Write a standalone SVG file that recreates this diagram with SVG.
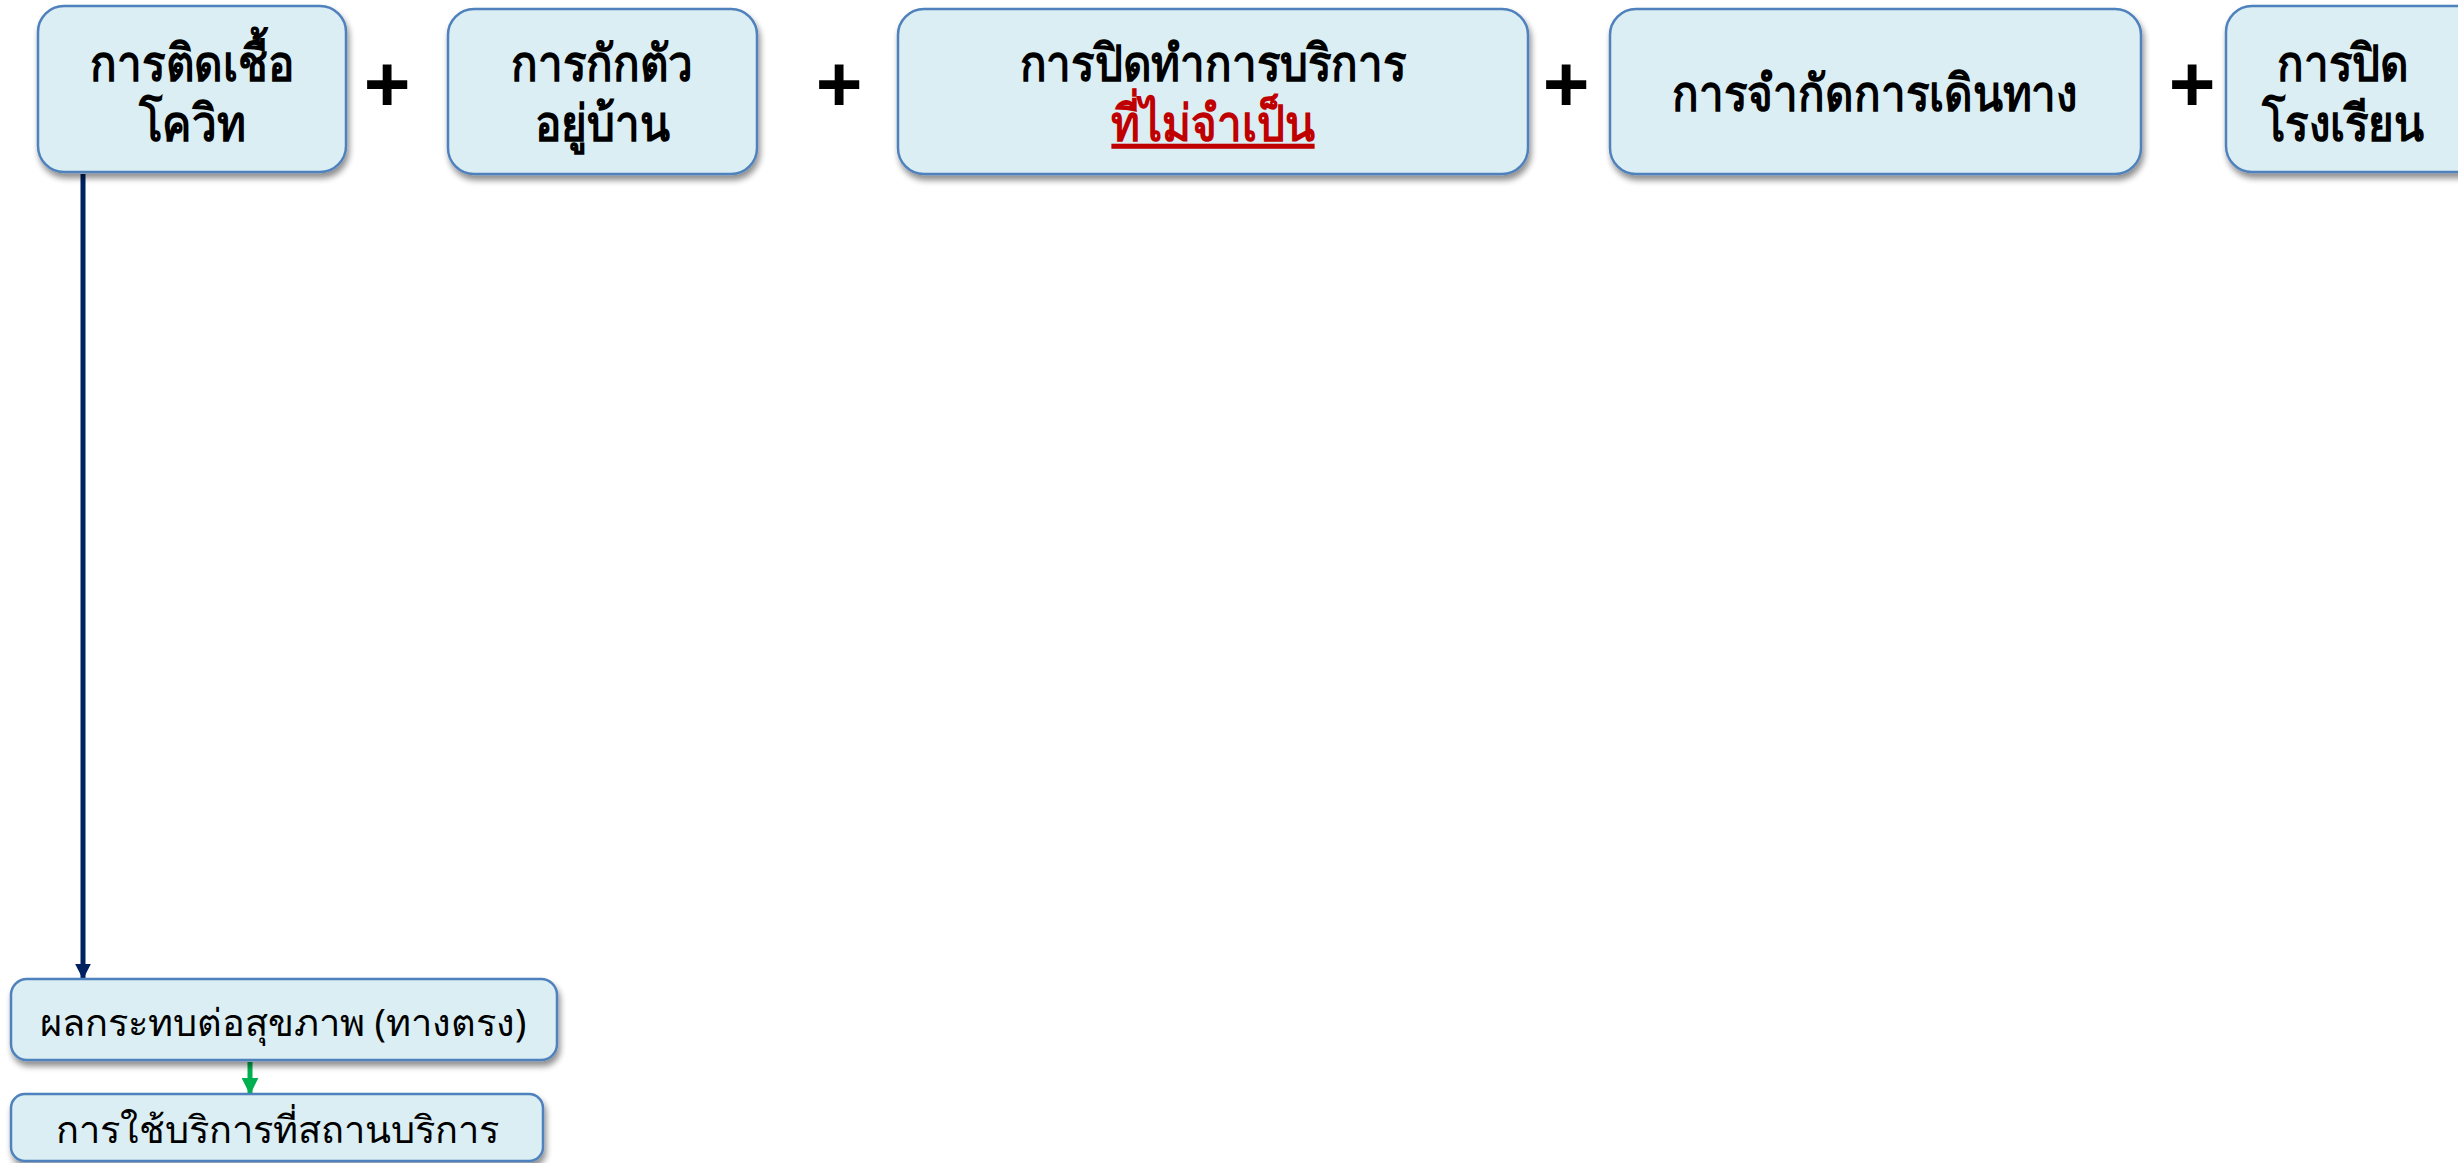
<svg xmlns="http://www.w3.org/2000/svg" width="2458" height="1163" viewBox="0 0 2458 1163">
<defs>
<filter id="sh" x="-10%" y="-10%" width="130%" height="140%">
<feGaussianBlur in="SourceAlpha" stdDeviation="3"/>
<feOffset dx="2" dy="5" result="b"/>
<feComponentTransfer><feFuncA type="linear" slope="0.45"/></feComponentTransfer>
<feMerge><feMergeNode/><feMergeNode in="SourceGraphic"/></feMerge>
</filter>
<marker id="arrNavy" viewBox="0 0 10 10" refX="9" refY="5" markerWidth="3.2" markerHeight="3.2" orient="auto"><path d="M0,0 L10,5 L0,10 z" fill="#002060"/></marker>
<marker id="arrGreen" viewBox="0 0 10 10" refX="9" refY="5" markerWidth="3.4" markerHeight="3.4" orient="auto"><path d="M0,0 L10,5 L0,10 z" fill="#00B050"/></marker>
</defs>
<style>
.box{fill:#DAEEF3;stroke:#4F81BD;stroke-width:2.5;filter:url(#sh)}
.t{font-family:"Noto Sans","DejaVu Sans",sans-serif;font-weight:bold;font-size:44px;fill:#000;text-anchor:middle}
.ts{font-family:"Noto Sans","DejaVu Sans",sans-serif;font-size:38px;fill:#000;text-anchor:middle}
.red{fill:#C00000;text-decoration:underline}
.plus{font-family:"Liberation Sans",Arial,sans-serif;font-weight:bold;font-size:80px;fill:#000;text-anchor:middle}
</style>
<rect width="2458" height="1163" fill="#fff"/>
<g id="connectors">
<line x1="83" y1="174" x2="83" y2="978" stroke="#002060" stroke-width="5" marker-end="url(#arrNavy)"/>
<line x1="250" y1="1062" x2="250" y2="1093" stroke="#00B050" stroke-width="5" marker-end="url(#arrGreen)"/>
</g>
<g id="n1"><rect class="box" x="38" y="6" width="308" height="166" rx="26"/>
<text class="t" transform="translate(192,0) scale(1,1.15)"><tspan x="0" y="70.5">การติดเชื้อ</tspan><tspan x="0" y="122.2">โควิท</tspan></text></g>
<g id="n2"><rect class="box" x="448" y="9" width="309" height="165" rx="26"/>
<text class="t" transform="translate(602,0) scale(1,1.15)"><tspan x="0" y="70.5">การกักตัว</tspan><tspan x="0" y="122.2">อยู่บ้าน</tspan></text></g>
<g id="n3"><rect class="box" x="898" y="9" width="630" height="165" rx="26"/>
<text class="t" transform="translate(1213,0) scale(1,1.15)"><tspan x="0" y="70.5">การปิดทำการบริการ</tspan><tspan class="red" x="0" y="122.2">ที่ไม่จำเป็น</tspan></text></g>
<g id="n4"><rect class="box" x="1610" y="9" width="531" height="165" rx="26"/>
<text class="t" transform="translate(1875,111) scale(1,1.15)">การจำกัดการเดินทาง</text></g>
<g id="n5"><rect class="box" x="2226" y="6" width="260" height="166" rx="26"/>
<text class="t" transform="translate(2343,0) scale(1,1.15)"><tspan x="0" y="70.5">การปิด</tspan><tspan x="0" y="122.2">โรงเรียน</tspan></text></g>
<g id="plus">
<text class="plus" x="387" y="111">+</text>
<text class="plus" x="839" y="111">+</text>
<text class="plus" x="1566" y="111">+</text>
<text class="plus" x="2192" y="111">+</text>
</g>
<g id="n6"><rect class="box" x="11" y="979" width="546" height="81" rx="16"/>
<text class="ts" x="283" y="1036">ผลกระทบต่อสุขภาพ (ทางตรง)</text></g>
<g id="n7"><rect class="box" x="11" y="1094" width="532" height="67" rx="14"/>
<text class="ts" x="277" y="1143">การใช้บริการที่สถานบริการ</text></g>
</svg>
